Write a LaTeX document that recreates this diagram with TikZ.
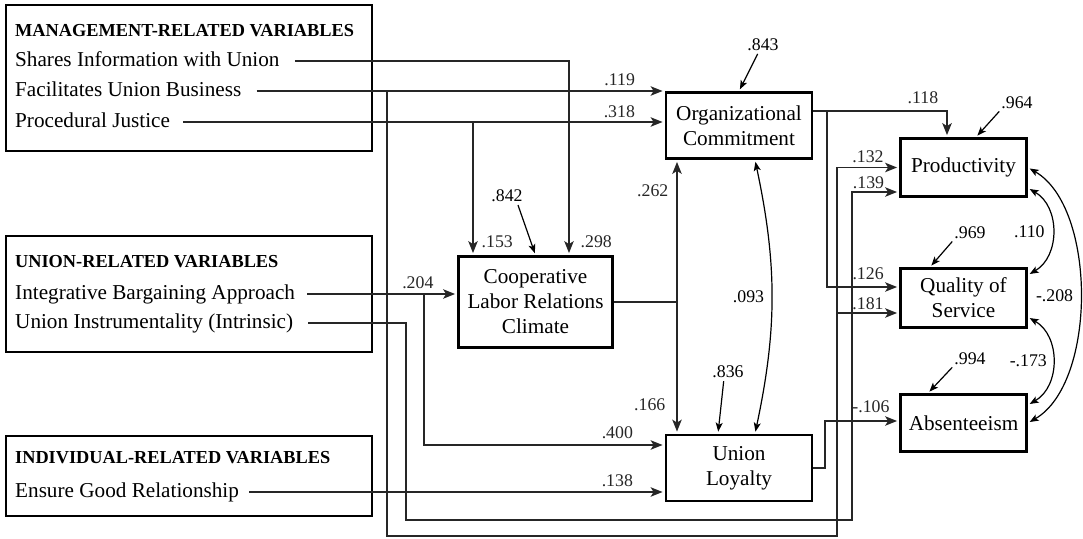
\documentclass[tikz,border=0pt]{standalone}
\usepackage{fontspec}
\setmainfont{Liberation Serif}
\usetikzlibrary{arrows.meta,positioning}

\begin{document}
\begin{tikzpicture}[x=1pt,y=-1pt,
    group/.style={draw,line width=2.8pt,minimum width=366pt,inner sep=0pt},
    head/.style={anchor=base west,inner sep=0pt,
                 font=\fontsize{18.3}{22}\selectfont\bfseries},
    item/.style={anchor=west,inner sep=0pt,text height=14pt,text depth=4pt,
                 font=\fontsize{21.2}{25}\selectfont},
    var/.style={draw,line width=2.8pt,align=center,inner sep=2pt,
                font=\fontsize{21.2}{25}\selectfont},
    coef/.style={inner sep=0pt,font=\fontsize{17.8}{20}\selectfont},
    link/.style={line width=1.4pt,black!85},
    arr/.style={link,-{Stealth[length=12pt,width=9.5pt,inset=3pt]},shorten >=2pt},
    err/.style={line width=1.2pt,-{Stealth[length=9pt,width=7pt,inset=2.2pt]},
                shorten >=2pt,shorten <=3pt},
    corr/.style={line width=1.2pt,
                 {Stealth[length=9pt,width=7pt,inset=2.2pt]}-{Stealth[length=9pt,width=7pt,inset=2.2pt]},
                 shorten >=2pt,shorten <=2pt},
]
\useasboundingbox (0,0) rectangle (1083,538);

% ---- Predictor groups ----------------------------------------------------
\node[group,minimum height=146pt] (mgmt)  at (189,78)  {};
\node[group,minimum height=116pt] (union) at (189,294) {};
\node[group,minimum height=80pt]  (indiv) at (189,476) {};

\node[head] (mhead) at (15,36)  {MANAGEMENT-RELATED VARIABLES};
\node[item] (share) at (15,61)  {Shares Information with Union};
\node[item] (facil) at (15,91)  {Facilitates Union Business};
\node[item] (proc)  at (15,122) {Procedural Justice};

\node[head] (uhead) at (15,267) {UNION-RELATED VARIABLES};
\node[item] (integ) at (15,294) {Integrative Bargaining Approach};
\node[item] (instr) at (15,323) {Union Instrumentality (Intrinsic)};

\node[head] (ihead) at (15,463) {INDIVIDUAL-RELATED VARIABLES};
\node[item] (relat) at (15,492) {Ensure Good Relationship};

% ---- Mediators and outcomes ----------------------------------------------
\node[var,minimum width=154pt,minimum height=91pt] (clim)  at (535.5,302)
    {Cooperative\\Labor Relations\\Climate};
\node[var,minimum width=146pt,minimum height=66pt] (org)   at (739,125.5)
    {Organizational\\Commitment};
\node[var,minimum width=146pt,minimum height=66pt] (loyal) at (739,468)
    {Union\\Loyalty};
\node[var,minimum width=126pt,minimum height=58pt] (prod)  at (963.5,167.5)
    {Productivity};
\node[var,minimum width=126pt,minimum height=59pt] (qual)  at (963.5,298)
    {Quality of\\Service};
\node[var,minimum width=126pt,minimum height=57pt] (absent) at (963.5,423)
    {Absenteeism};

% ---- Routing lanes and entry points --------------------------------------
\coordinate (laneS)  at (569,61);
\coordinate (laneJ)  at (473,122);
\coordinate (laneF)  at (387,536);
\coordinate (laneU)  at (406,520);
\coordinate (laneB)  at (424,445);
\coordinate (laneC)  at (677,302);
\coordinate (lanePQ) at (837,536);
\coordinate (laneUP) at (852,520);
\coordinate (laneO)  at (827,287);
\coordinate (laneL)  at (825,421);

\coordinate (oout) at ([yshift=14.5pt]org.east);
\coordinate (pn)   at ([xshift=-16.5pt]prod.north);
\coordinate (p2)   at ([yshift=-24.5pt]prod.west);
\coordinate (q1)   at ([yshift=11pt]qual.west);
\coordinate (q2)   at ([yshift=-15pt]qual.west);
\coordinate (a1)   at ([yshift=2pt]absent.west);
\coordinate (l1)   at ([yshift=23pt]loyal.west);

% ---- Management paths ----------------------------------------------------
\draw[arr] ([xshift=15pt]share.east) -- (laneS) -- (laneS |- clim.north)
    node[coef,pos=1,above right=7pt and 11pt] {.298};
\draw[arr] ([xshift=15pt]facil.east) -- (facil.east -| org.west)
    node[coef,pos=1,above left=5pt and 29pt] {.119};
\draw[arr] (facil.east -| laneF) -- (laneF) -- (lanePQ) -- (prod.west -| lanePQ)
    -- (prod.west) node[coef,midway,above=4pt] {.132};
\draw[arr] (q2 -| lanePQ) -- (q2) node[coef,midway,above=3pt] {.181};
\draw[arr] ([xshift=13pt]proc.east) -- (proc.east -| org.west)
    node[coef,pos=1,above left=4pt and 29pt] {.318};
\draw[arr] (laneJ) -- (laneJ |- clim.north)
    node[coef,pos=1,above right=7pt and 8pt] {.153};

% ---- Union paths ---------------------------------------------------------
\draw[arr] ([xshift=12pt]integ.east) -- (integ.east -| clim.west)
    node[coef,pos=1,above left=5pt and 23pt] {.204};
\draw[arr] (laneB |- integ.east) -- (laneB) -- (l1)
    node[coef,pos=1,above left=6pt and 31pt] {.400};
\draw[arr] ([xshift=15pt]instr.east) -- (instr.east -| laneU) -- (laneU)
    -- (laneUP) -- (p2 -| laneUP) -- (p2) node[coef,pos=0.35,above=3pt] {.139};

% ---- Individual path -----------------------------------------------------
\draw[arr] ([xshift=10pt]relat.east) -- (relat.east -| loyal.west)
    node[coef,pos=1,above left=5pt and 31pt] {.138};

% ---- Climate, commitment and loyalty -------------------------------------
\draw[arr] (clim.east) -- (laneC) -- (laneC |- org.south)
    node[coef,pos=0.78,left=8pt] {.262};
\draw[arr] (laneC) -- (laneC |- loyal.north)
    node[coef,pos=0.78,left=11pt] {.166};
\draw[arr] (oout) -| (pn) node[coef,pos=0.41,above=7pt] {.118};
\draw[arr] (oout -| laneO) -- (laneO) -- (q1)
    node[coef,pos=0.57,above=7pt] {.126};
\draw[arr] (loyal.east) -- (loyal.east -| laneL) -- (laneL) -- (a1)
    node[coef,pos=0.62,above=8pt] {-.106};

% ---- Residuals -----------------------------------------------------------
\node[coef] (e843) at (763,45)  {.843};
\node[coef] (e842) at (507,196) {.842};
\node[coef] (e836) at (728,372) {.836};
\node[coef] (e964) at (1017,103) {.964};
\node[coef] (e969) at (970,233) {.969};
\node[coef] (e994) at (970,359) {.994};
\draw[err] ([xshift=-4pt]e843.south) -- (org.north);
\draw[err] ([xshift=10pt]e842.south) -- (clim.north);
\draw[err] ([xshift=-4pt]e836.south) -- ([xshift=-21pt]loyal.north);
\draw[err] (e964.south west) -- ([xshift=12.5pt]prod.north);
\draw[err] (e969.south west) -- ([xshift=-33.5pt]qual.north);
\draw[err] (e994.south west) -- ([xshift=-35.5pt]absent.north);

% ---- Correlations --------------------------------------------------------
\draw[corr] ([xshift=16pt]org.south) to[bend left=12]
    node[coef,midway,left=7pt] {.093} ([xshift=16pt]loyal.north);
\draw[corr] ([yshift=-20.5pt]prod.east) to[out=-30,in=30,looseness=1.1]
    node[coef,midway,left=7pt] {.110} ([yshift=23pt]qual.east);
\draw[corr] ([yshift=-19pt]qual.east) to[out=-30,in=30,looseness=1.1]
    node[coef,midway,left=5pt] {-.173} ([yshift=18pt]absent.east);
\draw[corr] (prod.east) to[out=-30,in=30,looseness=0.8]
    node[coef,midway,left=6pt] {-.208} (absent.east);

\end{tikzpicture}
\end{document}
